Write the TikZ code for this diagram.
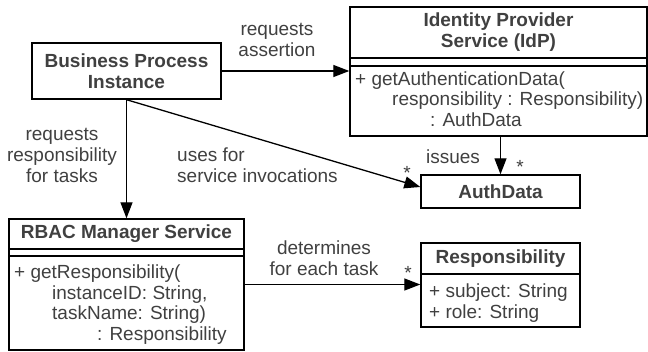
\documentclass[tikz,border=0pt]{standalone}
\usepackage{fontspec}
\setmainfont{Liberation Sans}
\usepackage{xcolor}
\usetikzlibrary{arrows.meta}
\definecolor{txtgray}{HTML}{404040}

\tikzset{
	classbox/.style={draw, line width=1.4pt, inner sep=0pt},
	classname/.style={font=\fontsize{19}{21}\selectfont\bfseries, text=txtgray, align=center, inner sep=0pt},
	member/.style={font=\fontsize{19}{20.5}\selectfont, text=txtgray, align=left, inner sep=0pt, anchor=base west},
	rolename/.style={font=\fontsize{19}{21}\selectfont, text=txtgray, align=center, inner sep=0pt},
	mult/.style={font=\fontsize{19}{21}\selectfont, text=txtgray, inner sep=0pt, anchor=base},
	assoc/.style={line width=1.3pt, -{Triangle[length=16pt,width=12pt]}},
}

\begin{document}
\begin{tikzpicture}[x=1pt, y=-1pt]
	\useasboundingbox (0,0) rectangle (648,351);
	
	% classes
	\node[classbox, minimum width=189pt, minimum height=56pt] (bpi) at (126.5,71) {};
	\node[classname] (bpiname) at (bpi.center) {Business Process\\Instance};
	
	\node[classbox, minimum width=297pt, minimum height=129pt] (idp) at (498.5,71.5) {};
	\node[classname] (idpname) at (498.5,32.5) {Identity Provider\\Service (IdP)};
	\draw[line width=1.4pt] (idp.west |- 0,58) -- (idp.east |- 0,58);
	\draw[line width=1.4pt] (idp.west |- 0,66) -- (idp.east |- 0,66);
	% base anchor = baseline of the last line
	\node[member] (idpops) at (355,126) {+ getAuthenticationData(\\\hspace*{37pt}responsibility : Responsibility)\\\hspace*{75pt}: AuthData};
	
	\node[classbox, minimum width=159pt, minimum height=33pt] (auth) at (500.5,191.5) {};
	\node[classname] (authname) at (auth.center) {AuthData};
	
	\node[classbox, minimum width=159pt, minimum height=84pt] (resp) at (500.5,285) {};
	\node[classname] (respname) at (500.5,258.5) {Responsibility};
	\draw[line width=1.4pt] (resp.west |- 0,274) -- (resp.east |- 0,274);
	\node[member] (respattr) at (429,318) {+ subject: String\\+ role: String};
	
	\node[classbox, minimum width=235pt, minimum height=131pt] (rbac) at (126.5,284.5) {};
	\node[classname] (rbacname) at (126.5,234) {RBAC Manager Service};
	\draw[line width=1.4pt] (rbac.west |- 0,249) -- (rbac.east |- 0,249);
	\draw[line width=1.4pt] (rbac.west |- 0,256) -- (rbac.east |- 0,256);
	\node[member] (rbacops) at (14,340) {+ getResponsibility(\\\hspace*{38pt}instanceID: String,\\\hspace*{38pt}taskName: String)\\\hspace*{83pt}: Responsibility};
	
	% associations
	\draw[assoc] (bpi.east) -- (bpi.east -| idp.west);
	\draw[assoc] (bpi.south) -- (rbac.north);
	\draw[assoc] (bpi.south) -- ([yshift=4.5pt]auth.west);
	\draw[assoc] (idp.south -| auth.north) -- (auth.north);
	\draw[assoc] (rbac.east) -- (rbac.east -| resp.west);
	
	% labels
	\node[rolename] (lblassert) at (277,40) {requests\\assertion};
	\node[rolename] (lblresp) at (62,155) {requests\\responsibility\\for tasks};
	\node[rolename, align=left, anchor=west] (lbluses) at (177,165) {uses for\\service invocations};
	\node[rolename] (lblissues) at (453,157) {issues};
	\node[mult] (multuses) at (407,179) {*};
	\node[mult] (multissues) at (520,173) {*};
	\node[rolename] (lbldet) at (324,258) {determines\\for each task};
	\node[mult] (multdet) at (408,279) {*};
\end{tikzpicture}
\end{document}
